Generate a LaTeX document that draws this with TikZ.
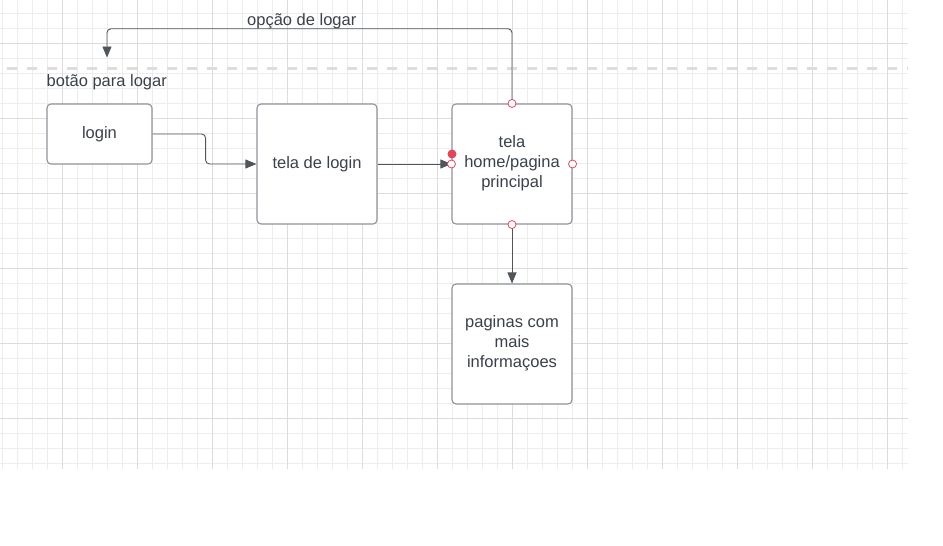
\documentclass[tikz,border=0pt]{standalone}
\usepackage{fontspec}
\setmainfont{Liberation Sans}
\usetikzlibrary{positioning}
\usetikzlibrary{arrows.meta}

\definecolor{txtgray}{HTML}{3A414A}
\definecolor{boxgray}{HTML}{8E9299}
\definecolor{linegray}{HTML}{50555C}
\definecolor{gridminor}{HTML}{EDEDED}
\definecolor{gridmajor}{HTML}{DCDCDC}
\definecolor{dashgray}{HTML}{DDDDDD}
\definecolor{markred}{HTML}{E0475D}

\tikzset{
    screen/.style={draw=boxgray,line width=1.1pt,rounded corners=4pt,fill=white,
        text=txtgray,align=center,inner sep=0pt,
        font=\fontsize{16.5}{20}\selectfont},
    label/.style={text=txtgray,inner sep=0pt,font=\fontsize{16.5}{20}\selectfont},
    flow/.style={draw=linegray,line width=0.9pt,rounded corners=4pt,
        -{Triangle[length=11pt,width=9pt]}},
    port/.style={circle,draw=markred,fill=white,line width=0.8pt,inner sep=0pt,minimum size=8pt}
}

\begin{document}
\begin{tikzpicture}[x=1pt,y=-1pt]
        \useasboundingbox (0,0) rectangle (943,546);
        % grid
        \foreach \i in {0,...,60}
            \draw[gridminor,line width=1pt] (2+15*\i,0) -- (2+15*\i,468.7);
        \foreach \j in {0,...,30}
            \draw[gridminor,line width=1pt] (0,13.3+15*\j) -- (908,13.3+15*\j);
        \foreach \i in {0,...,11}
            \draw[gridmajor,line width=1pt] (62+75*\i,0) -- (62+75*\i,468.7);
        \foreach \j in {0,...,5}
            \draw[gridmajor,line width=1pt] (0,43.3+75*\j) -- (908,43.3+75*\j);
        \draw[dashgray,line width=3pt,dash pattern=on 10pt off 10pt] (7,68.3) -- (908,68.3);

        % screens
        \node[screen,minimum width=105pt,minimum height=60pt] (login) at (99.5,134) {login};
        \node[screen,minimum width=120pt,minimum height=120pt] (telalogin) at (317,164) {\raisebox{1pt}{tela de login}};
        \node[screen,minimum width=120pt,minimum height=120pt] (home) at (512,164) {tela\\home/pagina\\principal\\[-16pt]};
        \node[screen,minimum width=120pt,minimum height=120pt] (paginas) at (512,344) {paginas com\\mais\\informaçoes\\[-16pt]};

        % texts
        \node[label,anchor=base west] (opcao) at (247,25.5) {opção de logar};
        \node[label,anchor=base west] (botao) at (46.5,86.5) {botão para logar};

        % connectors
        \coordinate (voltar) at (107,57.5);
        \draw[flow] (login.east) -- ++(53,0) |- (telalogin.west);
        \draw[flow] (telalogin.east) -- (home.west);
        \draw[flow] (home.south) -- (paginas.north);
        \draw[flow] (home.north) -- ++(0,-74.7) -| (voltar);

        % selection marks
        \node[port] at (home.north) {};
        \node[port] at (home.east) {};
        \node[port] at (home.south) {};
        \node[port] at (home.west) {};
        \fill[markred] (452,154) circle (4.5pt);
    \end{tikzpicture}
\end{document}
